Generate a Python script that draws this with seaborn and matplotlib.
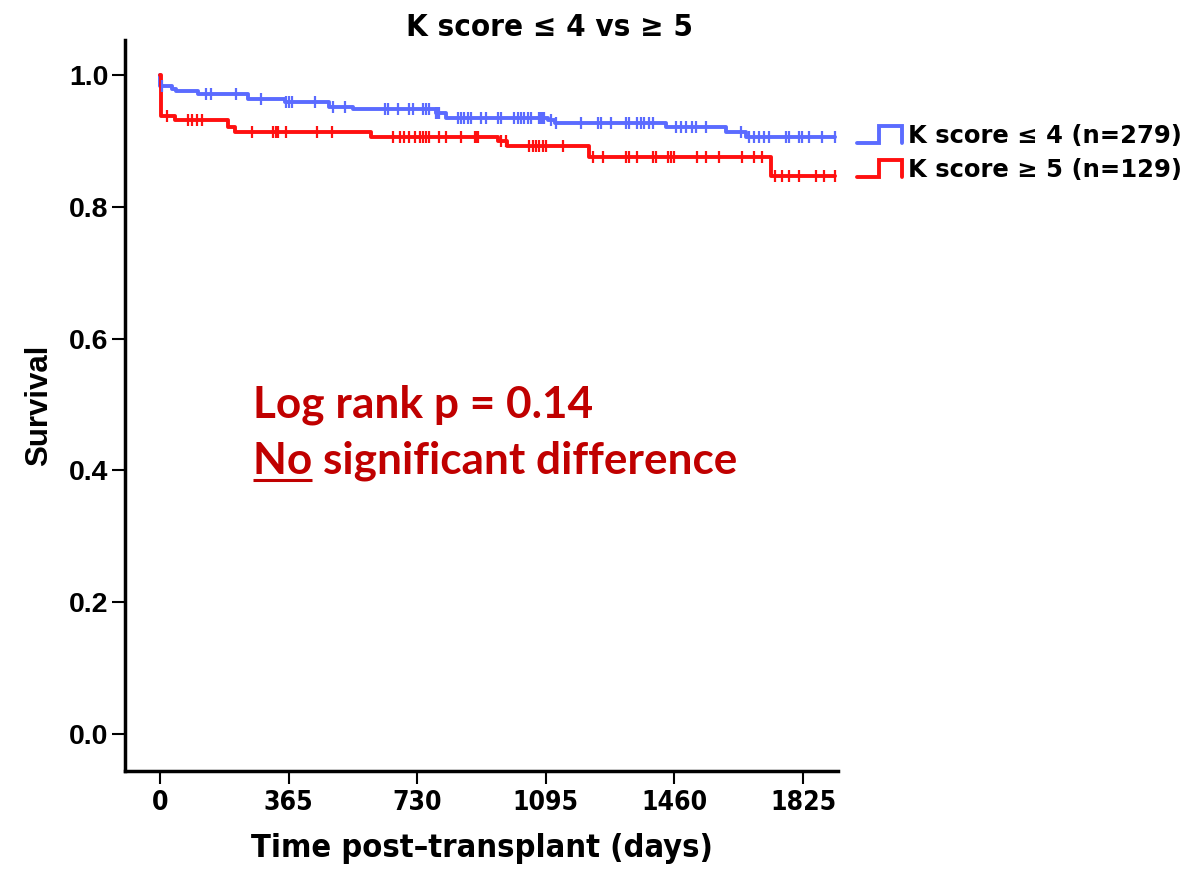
import numpy as np
import pandas as pd
import matplotlib
matplotlib.use("Agg")
import matplotlib.pyplot as plt
from matplotlib import font_manager
from matplotlib.font_manager import FontProperties
from matplotlib.lines import Line2D
import seaborn as sns

# Kaplan-Meier step levels: day where each level begins and the survival proportion
low_days = [0, 1, 33, 45, 109, 250, 355, 480, 548, 784, 812, 1100, 1120, 1436, 1606, 1662, 1917]
low_surv = [1.0, 0.983, 0.979, 0.975, 0.971, 0.963, 0.959, 0.952, 0.948, 0.943, 0.935, 0.931,
            0.927, 0.921, 0.914, 0.906, 0.906]
low_censored = [5, 132, 146, 217, 288, 359, 366, 376, 439, 491, 524, 638, 647, 675, 708, 718,
                746, 756, 765, 784, 789, 793, 845, 855, 864, 874, 883, 912, 926, 959, 968,
                1006, 1015, 1025, 1034, 1044, 1053, 1077, 1082, 1086, 1091, 1110, 1124, 1195,
                1242, 1252, 1280, 1322, 1332, 1355, 1365, 1374, 1389, 1398, 1464, 1478, 1492,
                1511, 1521, 1549, 1648, 1672, 1686, 1700, 1714, 1729, 1776, 1785, 1814, 1823,
                1842, 1880, 1917]

high_days = [0, 3, 42, 194, 213, 600, 959, 986, 1218, 1733, 1917]
high_surv = [1.0, 0.938, 0.931, 0.921, 0.914, 0.906, 0.900, 0.892, 0.875, 0.847, 0.847]
high_censored = [19, 80, 90, 104, 118, 260, 321, 329, 335, 359, 447, 489, 661, 680, 694, 708,
                 723, 737, 746, 756, 765, 793, 812, 855, 893, 897, 902, 968, 982, 1048, 1058,
                 1067, 1077, 1086, 1096, 1143, 1230, 1258, 1322, 1332, 1355, 1398, 1408, 1441,
                 1450, 1459, 1525, 1549, 1587, 1653, 1686, 1710, 1747, 1766, 1785, 1814, 1861,
                 1884, 1917]

group_labels = ["K score \u2264 4 (n=279)", "K score \u2265 5 (n=129)"]
x_ticks = [0, 365, 730, 1095, 1460, 1825]
y_ticks = [0.0, 0.2, 0.4, 0.6, 0.8, 1.0]
chart_title = "K score \u2264 4 vs \u2265 5"
x_title = "Time post\u2013transplant (days)"
y_title = "Survival"
stat_lines = ["Log rank p = 0.14", "No significant difference"]
stat_underlined = "No"

BLUE = "#5B6BFF"
RED = "#FF1010"
DARK_RED = "#C00000"

W, H, DPI = 1201, 871, 100

sns.set_theme(style="ticks")
plt.rcParams["font.family"] = ["Liberation Sans", "DejaVu Sans"]


def condensed_font():
    candidates = (("DejaVu Sans", "condensed"), ("DejaVu Sans Condensed", "normal"),
                  ("Liberation Sans Narrow", "normal"), ("Roboto Condensed", "normal"),
                  ("Roboto", "condensed"), ("Open Sans Condensed", "normal"),
                  ("Open Sans", "condensed"), ("Noto Sans", "condensed"),
                  ("Noto Sans Condensed", "normal"))
    for fam, stretch in candidates:
        try:
            path = font_manager.findfont(FontProperties(family=fam, weight="bold", stretch=stretch),
                                         fallback_to_default=False)
        except Exception:
            continue
        if "ondensed" in path or "Narrow" in path:
            return FontProperties(fname=path)
    for f in font_manager.fontManager.ttflist:
        if ("ondensed" in f.fname or "Narrow" in f.fname) and f.weight in ("bold", 700):
            return FontProperties(fname=f.fname)
    return FontProperties(family="Liberation Sans", weight="bold")


cond = condensed_font()
arial_bold = FontProperties(family=["Liberation Sans", "DejaVu Sans"], weight="bold")
legend_font = FontProperties(family=["DejaVu Sans"], weight="bold")
stat_font = FontProperties(family=["Lato", "Open Sans"], weight="bold")


def step_value(days, surv, t):
    idx = np.searchsorted(np.asarray(days), np.asarray(t), side="right") - 1
    return np.asarray(surv)[idx]


fig = plt.figure(figsize=(W / DPI, H / DPI), dpi=DPI)
ax = fig.add_axes([125 / W, 1 - 771 / H, (838 - 125) / W, (771 - 40) / H])

curves = [
    (low_days, low_surv, low_censored, BLUE),
    (high_days, high_surv, high_censored, RED),
]
for days, surv, cens, color in curves:
    df = pd.DataFrame({"day": days, "surv": surv})
    sns.lineplot(data=df, x="day", y="surv", drawstyle="steps-post", estimator=None,
                 color=color, lw=2.8, ax=ax, zorder=3)
    ax.plot(cens, step_value(days, surv, cens), ls="none", marker="|", ms=8.5, mew=1.6,
            color=color, zorder=4)

ax.set_xlim(-99.3, 1924.5)
ax.set_ylim(-0.0561, 1.0531)
ax.set_xticks(x_ticks)
ax.set_xticklabels([str(t) for t in x_ticks])
ax.set_yticks(y_ticks)
ax.set_yticklabels([f"{v:.1f}" for v in y_ticks])
for lab in ax.get_xticklabels():
    lab.set_fontproperties(cond)
    lab.set_fontsize(19)
for lab in ax.get_yticklabels():
    lab.set_fontproperties(arial_bold)
    lab.set_fontsize(20.5)
ax.tick_params(axis="both", direction="out", length=9.5, width=1.5, color="black",
               labelcolor="black")
ax.tick_params(axis="x", pad=4)
ax.tick_params(axis="y", pad=2.5)
for side in ("top", "right"):
    ax.spines[side].set_visible(False)
for side in ("left", "bottom"):
    ax.spines[side].set_linewidth(2.5)
    ax.spines[side].set_color("black")
ax.grid(False)

ax.set_xlabel(x_title, fontproperties=cond, fontsize=23.5, color="black")
ax.xaxis.set_label_coords(0.5, (771 - 833) / 731)
ax.set_ylabel(y_title, fontproperties=arial_bold, fontsize=22.5, color="black")
ax.yaxis.set_label_coords((54 - 125) / 713, 0.5)

title_txt = fig.text(550 / W, 1 - 27 / H, chart_title, ha="center", va="center",
                     fontproperties=cond, fontsize=22.5, color="black")

renderer = fig.canvas.get_renderer()


def fit_width(txt, target_px):
    w = txt.get_window_extent(renderer).width
    txt.set_fontsize(txt.get_fontsize() * target_px / w)


fit_width(title_txt, 287)
fit_width(ax.xaxis.label, 462)

# legend: step-shaped keys with labels on the right of the plotting area
for i, (label, color) in enumerate(zip(group_labels, [BLUE, RED])):
    base = 143 + 34.5 * i
    xs = np.array([857, 879, 879, 902, 902]) / W
    ys = 1 - np.array([base, base, base - 17, base - 17, base]) / H
    fig.add_artist(Line2D(xs, ys, transform=fig.transFigure, color=color, lw=2.8,
                          solid_joinstyle="miter"))
    t = fig.text(908 / W, 1 - base / H, label, ha="left", va="baseline",
                 fontproperties=legend_font, fontsize=17.5, color="black")
    fit_width(t, 274)

# log-rank annotation
line1 = fig.text(253 / W, 1 - 417 / H, stat_lines[0], ha="left", va="baseline",
                 fontproperties=stat_font, fontsize=32, color=DARK_RED)
line2 = fig.text(253 / W, 1 - 473 / H, stat_lines[1], ha="left", va="baseline",
                 fontproperties=stat_font, fontsize=32, color=DARK_RED)
fit_width(line2, 484)
line1.set_fontsize(line2.get_fontsize())
probe = fig.text(253 / W, 1 - 473 / H, stat_underlined, ha="left", va="baseline",
                 fontproperties=stat_font, fontsize=line2.get_fontsize())
uw = probe.get_window_extent(renderer).width
probe.remove()
fig.add_artist(Line2D([253 / W, (253 + uw) / W], [1 - 480 / H, 1 - 480 / H],
                      transform=fig.transFigure, color=DARK_RED, lw=2.2,
                      solid_capstyle="butt"))

fig.savefig("out.png", dpi=DPI)
